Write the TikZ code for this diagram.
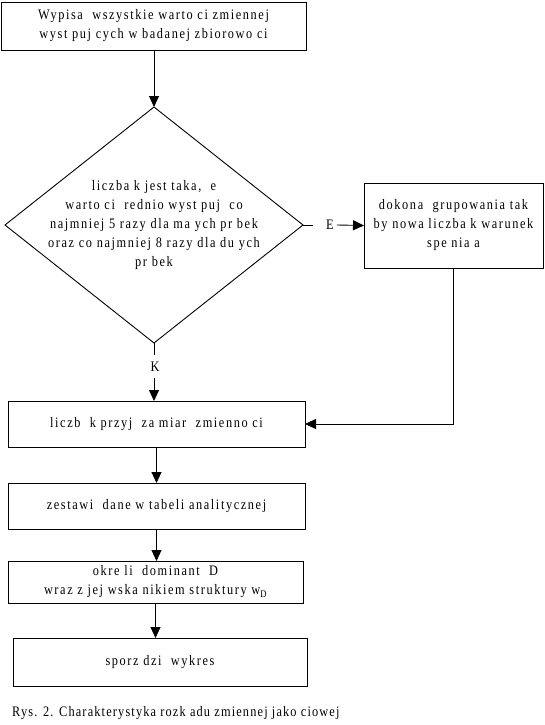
\documentclass[tikz,border=0pt]{standalone}
\usepackage{fontspec}
\setmainfont{Liberation Serif}[LetterSpace=11,FakeStretch=0.85]
\newfontfamily\capfont{Liberation Serif}[LetterSpace=8,FakeStretch=0.85]
\usetikzlibrary{arrows.meta,shapes.geometric}
\begin{document}
\begin{tikzpicture}[x=1pt,y=-1pt,
  every node/.style={font=\fontsize{14.5}{19}\selectfont},
  box/.style={draw,line width=0.9pt,minimum width=#1,outer sep=0pt,align=center},
  ln/.style={line width=0.9pt},
  arr/.style={line width=0.9pt,-{Triangle[length=11pt,width=10pt]}}]
\useasboundingbox (0,0) rectangle (545,725);
\node[box=305pt,minimum height=48pt] (b1) at (153.5,26) {Wypisa\ \ wszystkie warto\ ci zmiennej\\wyst\ puj\ cych w badanej zbiorowo\ ci};
\node[diamond,draw,line width=0.9pt,minimum width=298pt,minimum height=236pt,inner sep=0pt,outer sep=0pt] (dec) at (154,225) {};
\node[align=center] at (dec.center) {liczba k jest taka,\ \ e\\warto\ ci\ \ rednio wyst\ puj\ \ co\\najmniej 5 razy dla ma\ ych pr\ bek\\oraz co najmniej 8 razy dla du\ ych\\pr\ bek};
\node[box=179pt,minimum height=85pt] (b2) at (453.5,225.5) {dokona\ \ grupowania tak\\by nowa liczba k warunek\\spe\ nia\ a};
\coordinate (ee) at (313,225);
\node[inner sep=0pt] (E) at (330,225) {E};
\node[inner sep=0pt,minimum height=23pt] (K) at (155,366.5) {K};
\node[box=297pt,minimum height=46pt] (b3) at (156.5,424) {liczb\ \ k przyj\ \ za miar\ \ zmienno\ ci};
\node[box=297pt,minimum height=46pt] (b4) at (156.5,506) {zestawi\ \ dane w tabeli analitycznej};
\node[box=295pt,minimum height=42pt] (b5) at (155.5,582) {okre\ li\ \ dominant\ \ D\\wraz z jej wska\ nikiem struktury w\textsubscript{D}};
\node[box=294pt,minimum height=48pt] (b6) at (160,662) {sporz\ dzi\ \ wykres};
\node[anchor=west,inner sep=0pt,font=\capfont\fontsize{14.5}{19}\selectfont] (cap) at (12,713) {Rys. 2. Charakterystyka rozk\ adu zmiennej jako\ ciowej};
\draw[arr] (b1.south -| dec.north) -- (dec.north);
\draw[ln] (dec.east) -- (ee);
\draw[arr] ([xshift=3pt]E.east) -- (b2.west);
\draw[ln] (dec.south) -- (K.north -| dec.south);
\draw[arr] (K.south -| dec.south) -- (b3.north -| dec.south);
\draw[arr] (b2.south) |- (b3.east);
\draw[arr] (b3.south) -- (b4.north);
\draw[arr] (b4.south) -- (b5.north -| b4.south);
\draw[arr] (b5.south) -- (b5.south |- b6.north);
\end{tikzpicture}
\end{document}
